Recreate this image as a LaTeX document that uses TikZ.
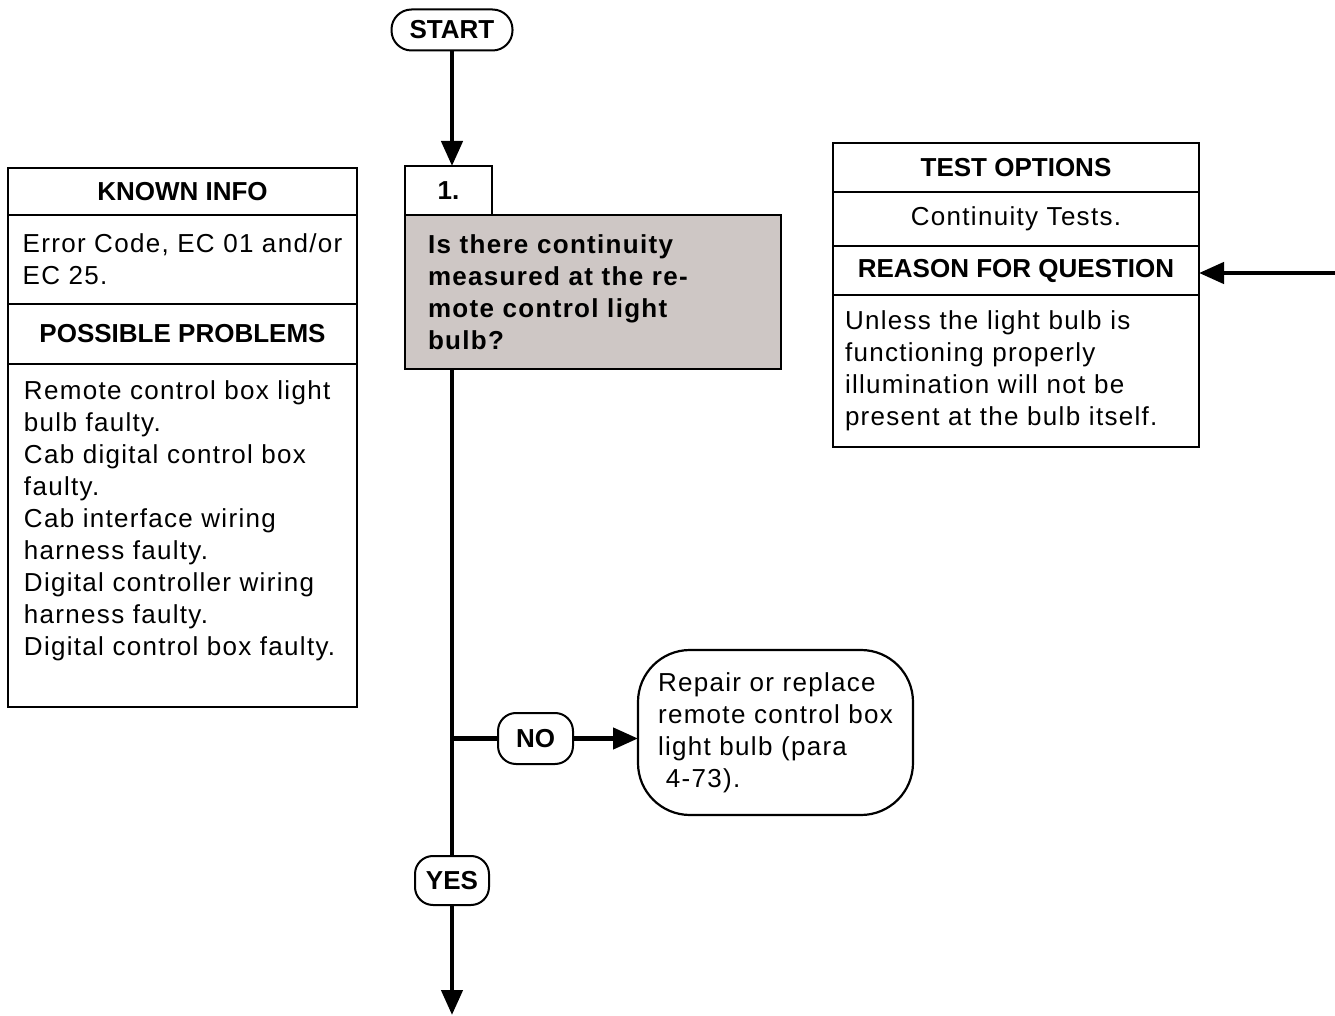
\documentclass[tikz,border=0pt]{standalone}
\usepackage{fontspec}
\setmainfont{Liberation Sans}
\newfontfamily\spacedfont{Liberation Sans}[LetterSpace=5]
\usetikzlibrary{arrows.meta,positioning}
\definecolor{questGray}{HTML}{CEC7C5}

\begin{document}
\begin{tikzpicture}[
  x=0.5pt, y=-0.5pt,
  font=\fontsize{13}{16}\selectfont,
  every node/.style={outer sep=0pt},
  node distance=0pt,
  pill/.style={draw, line width=1pt, rounded corners=9pt, inner sep=0pt, font=\fontsize{13}{16}\selectfont\bfseries},
  headcell/.style={draw, line width=1.1pt, inner sep=0pt, font=\fontsize{13}{16}\selectfont\bfseries},
  bodycell/.style={draw, line width=1.1pt, inner sep=0pt, align=left, font=\spacedfont\fontsize{13}{16}\selectfont},
  flow/.style={line width=2.25pt, -{Triangle[length=12.5pt,width=10.5pt]}},
  branch/.style={line width=2.25pt}
]
  \useasboundingbox (0,0) rectangle (1335,1016);

  % known info panel
  \node[headcell, minimum width=174.5pt, minimum height=23.5pt] (known) at (182.5,191.5) {KNOWN INFO};
  \node[bodycell, minimum width=174.5pt, minimum height=44.5pt, below=of known] (errcode) {Error Code, EC 01 and/or\\EC 25.};
  \node[headcell, minimum width=174.5pt, minimum height=30pt, below=of errcode] (probhead) {POSSIBLE PROBLEMS};
  \node[draw, line width=1.1pt, minimum width=174.5pt, minimum height=171.5pt, below=of probhead] (probbox) {};
  \node[bodycell, draw=none, anchor=north west, inner xsep=8pt, inner ysep=8.5pt] (problist) at (probbox.north west) {Remote control box light\\bulb faulty.\\Cab digital control box\\faulty.\\Cab interface wiring\\harness faulty.\\Digital controller wiring\\harness faulty.\\Digital control box faulty.};

  % test options panel
  \node[headcell, minimum width=183pt, minimum height=24.5pt] (testhead) at (1016,167.5) {TEST OPTIONS};
  \node[bodycell, align=center, minimum width=183pt, minimum height=27pt, below=of testhead] (testrow) {Continuity Tests.};
  \node[headcell, minimum width=183pt, minimum height=24.5pt, below=of testrow] (reasonhead) {REASON FOR QUESTION};
  \node[bodycell, text width=171pt, inner xsep=6pt, minimum height=76pt, below=of reasonhead] (reasonbody) {Unless the light bulb is\\functioning properly\\illumination will not be\\present at the bulb itself.};

  % question
  \node[pill, minimum width=60.5pt, minimum height=20.5pt, rounded corners=10pt] (start) at (452,30) {START};
  \node[bodycell, fill=questGray, line width=1.25pt, text width=165pt, inner xsep=11.5pt, minimum height=77pt, font=\spacedfont\bfseries\fontsize{13}{16}\selectfont] (quest) at (593,292) {Is there continuity\\measured at the re-\\mote control light\\bulb?};
  \node[headcell, minimum width=43.5pt, minimum height=24.5pt, anchor=south west] (num) at (quest.north west) {1.};

  % answers
  \node[pill, minimum width=37.5pt, minimum height=25.5pt] (no) at (535.5,738.5) {NO};
  \node[bodycell, rounded corners=26pt, minimum width=137.5pt, minimum height=82.5pt] (fix) at (775.5,732.5) {Repair or replace\\remote control box\\light bulb (para\\\hspace*{0.3em}4-73).};
  \node[pill, minimum width=37pt, minimum height=24.5pt] (yes) at (452,880.5) {YES};
  \coordinate (exit) at (452,1015);
  \coordinate (feed) at (1335,273);

  \draw[flow] (start.south) -- (start.south |- num.north);
  \draw[branch] (quest.south -| yes) -- (yes.north);
  \draw[branch] (no -| yes) -- (no.west);
  \draw[flow] (no.east) -- (no.east -| fix.west);
  \draw[flow] (yes.south) -- (exit);
  \draw[flow] (feed) -- (feed -| reasonhead.east);
\end{tikzpicture}
\end{document}
